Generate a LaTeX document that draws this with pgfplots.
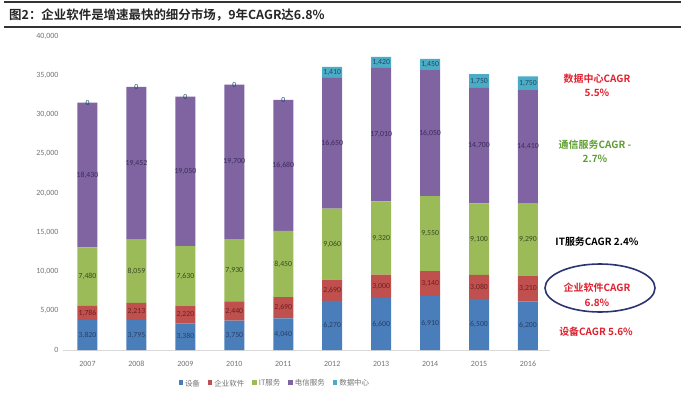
\documentclass[border=0pt]{standalone}
\usepackage{pgfplots}
\pgfplotsset{compat=1.18}
\usepackage{pgfplotstable}
\usepackage{fontspec}
\setmainfont{Carlito}
\newfontfamily\cjk{Noto Sans CJK SC}[BoldFont={Noto Sans CJK SC Bold}]
\definecolor{cA}{HTML}{4A7EBB}
\definecolor{cB}{HTML}{C0504D}
\definecolor{cC}{HTML}{9BBB59}
\definecolor{cD}{HTML}{8064A2}
\definecolor{cE}{HTML}{4BACC6}
\definecolor{lA}{HTML}{2A3F66}
\definecolor{lB}{HTML}{6E2020}
\definecolor{lC}{HTML}{3A4A20}
\definecolor{lD}{HTML}{3A2C5A}
\definecolor{lE}{HTML}{1F4A66}
\definecolor{redt}{HTML}{E0202E}
\definecolor{greent}{HTML}{5E9E32}
\definecolor{navy}{HTML}{2B3470}
\pgfplotstableread{
x sa sb sc sd se
0 3820 1786 7480 18430 0
1 3795 2213 8059 19452 0
2 3380 2220 7630 19050 0
3 3750 2440 7930 19700 0
4 4040 2690 8450 16680 0
5 6270 2690 9060 16650 1410
6 6600 3000 9320 17010 1420
7 6910 3140 9550 16050 1450
8 6500 3080 9100 14700 1750
9 6200 3210 9290 14410 1750
}\datatable
% label positions: middle of each segment
\pgfplotstablecreatecol[create col/expr={\thisrow{sa}/2}]{ma}\datatable
\pgfplotstablecreatecol[create col/expr={\thisrow{sa}+\thisrow{sb}/2}]{mb}\datatable
\pgfplotstablecreatecol[create col/expr={\thisrow{sa}+\thisrow{sb}+\thisrow{sc}/2}]{mc}\datatable
\pgfplotstablecreatecol[create col/expr={\thisrow{sa}+\thisrow{sb}+\thisrow{sc}+\thisrow{sd}/2}]{md}\datatable
\pgfplotstablecreatecol[create col/expr={\thisrow{sa}+\thisrow{sb}+\thisrow{sc}+\thisrow{sd}+\thisrow{se}/2}]{me}\datatable
\pgfplotsset{
  common/.style={
    at={(SW)}, anchor=south west,
    scale only axis, width=487bp, height=314bp,
    xmin=-0.5, xmax=9.45, ymin=0, ymax=40000,
    enlargelimits=false, clip=false,
    /pgf/number format/fixed, /pgf/number format/precision=0,
    /pgf/number format/1000 sep={,}, /pgf/number format/assume math mode=true,
  },
  seglab/.style={draw=none, mark=none, forget plot,
    nodes near coords, point meta=explicit,
    every node near coord/.append style={text=#1}},
}
\begin{document}
\begin{tikzpicture}[x=1bp,y=1bp]
\path[use as bounding box] (0,0) rectangle (681,392);
\coordinate (SW) at (63,42);
% title bar
\draw[line width=1.2bp,black!80] (4,390) -- (681,390);
\draw[line width=1.2bp,black!80] (4,365) -- (681,365);
\node[anchor=west,font=\cjk\bfseries\fontsize{12.5}{14}\selectfont,text=black!85,inner sep=0] at (9,377) {图2：企业软件是增速最快的细分市场，9年CAGR达6.8\%};
\begin{axis}[
  common,
  ybar stacked, bar width=20bp,
  xtick=data, xticklabels={2007,2008,2009,2010,2011,2012,2013,2014,2015,2016},
  ytick={0,5000,...,40000},
  axis x line*=bottom, axis y line*=left,
  x axis line style={draw=black!15, line width=0.8bp, -},
  y axis line style={draw=none, -},
  major tick length=0pt,
  tick label style={font=\fontsize{8}{9}\selectfont, text=black!55},
  y tick label style={xshift=-1bp},
  x tick label style={yshift=-8bp},
  scaled y ticks=false,
  legend columns=5,
  legend style={at={(axis description cs:0.435,-0.107)}, anchor=center, draw=none, fill=none,
    font=\cjk\fontsize{7.5}{9}\selectfont, text=black!55,
    /tikz/every even column/.append style={column sep=6bp}},
  legend image code/.code={\fill[#1] (0,-0.9bp) rectangle (4.5bp,3.6bp);},
]
\addplot[fill=cA, draw=none] table[x=x,y=sa]{\datatable};
\addplot[fill=cB, draw=none] table[x=x,y=sb]{\datatable};
\addplot[fill=cC, draw=none] table[x=x,y=sc]{\datatable};
\addplot[fill=cD, draw=none] table[x=x,y=sd]{\datatable};
\addplot[fill=cE, draw=none] table[x=x,y=se]{\datatable};
\legend{设备,企业软件,IT服务,电信服务,数据中心}
\end{axis}
\begin{axis}[
  common, axis lines=none, ticks=none,
  every node near coord/.append style={font=\fontsize{7.8}{8}\selectfont, anchor=center, inner sep=0.5bp},
]
\addplot[seglab=lA] table[x=x,y=ma,meta=sa]{\datatable};
\addplot[seglab=lB] table[x=x,y=mb,meta=sb]{\datatable};
\addplot[seglab=lC] table[x=x,y=mc,meta=sc]{\datatable};
\addplot[seglab=lD] table[x=x,y=md,meta=sd]{\datatable};
\addplot[seglab=lE] table[x=x,y=me,meta=se]{\datatable};
\end{axis}
% annotations
\begin{scope}[every node/.style={font=\cjk\bfseries\fontsize{10}{14.5}\selectfont, align=center, inner sep=0}]
\node[text=redt] at (597,306.5) {数据中心CAGR\\5.5\%};
\node[text=greent] at (595,240.5) {通信服务CAGR -\\2.7\%};
\node[text=black] at (597,150) {IT服务CAGR 2.4\%};
\node[text=redt] at (597,97) {企业软件CAGR\\6.8\%};
\node[text=redt] at (596,60) {设备CAGR 5.6\%};
\end{scope}
\draw[navy, line width=1.6bp] (600,104) ellipse (55 and 24);
\end{tikzpicture}
\end{document}
